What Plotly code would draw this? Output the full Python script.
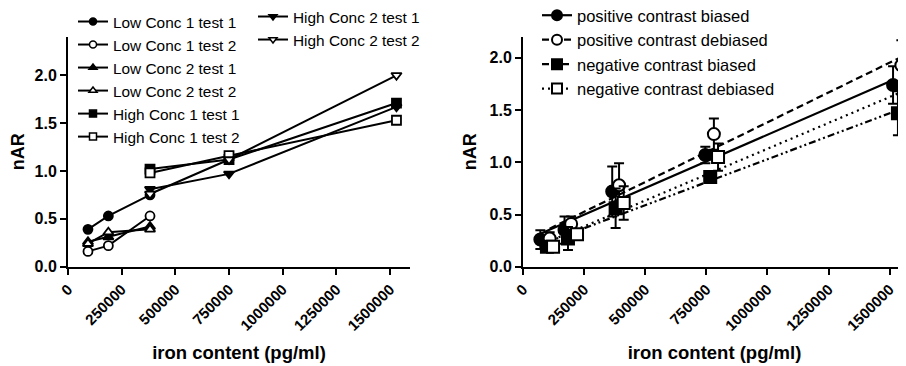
import numpy as np
import plotly.graph_objects as go

# ---------------- data: left panel ----------------
x_low = [93000, 188000, 382000]
x_high = [382000, 750000, 1530000]

low_c1_t1 = [0.39, 0.53, 0.75]
low_c1_t2 = [0.16, 0.22, 0.53]
low_c2_t1 = [0.26, 0.31, 0.42]
low_c2_t2 = [0.24, 0.36, 0.39]
high_c1_t1 = [1.02, 1.12, 1.71]
high_c1_t2 = [0.98, 1.16, 1.53]
high_c2_t1 = [0.81, 0.97, 1.67]
high_c2_t2 = [0.76, 1.12, 2.00]

# ---------------- data: right panel ----------------
x_pos_b = [71000, 170000, 365000, 746000, 1514000]
x_pos_d = [109000, 197000, 393000, 781000, 1548000]
x_neg_b = [98000, 184000, 379000, 766000, 1534000]
x_neg_d = [123000, 221000, 412000, 798000, 1562000]

y_pos_b = [0.26, 0.35, 0.72, 1.07, 1.74]
y_pos_d = [0.27, 0.41, 0.78, 1.27, 1.93]
y_neg_b = [0.19, 0.27, 0.56, 0.86, 1.47]
y_neg_d = [0.19, 0.31, 0.61, 1.05, 1.62]

e_pos_b = [0.09, 0.13, 0.24, 0.08, 0.18]
e_pos_d = [0.06, 0.07, 0.21, 0.15, 0.24]
e_neg_b = [0.04, 0.11, 0.19, 0.03, 0.21]
e_neg_d = [0.03, 0.05, 0.16, 0.13, 0.20]

x_tickvals = [0, 250000, 500000, 750000, 1000000, 1250000, 1500000]
x_ticktext = ["0", "250000", "500000", "750000", "1000000", "1250000", "1500000"]
y_tickvals = [0.0, 0.5, 1.0, 1.5, 2.0]

FONT = "Liberation Sans, Arial, sans-serif"
W, H = 906, 366
OFF = 8  # page body margin offset


def fx(px):
    return (px - OFF) / W


def fy(py):
    return 1 - (py - OFF) / H


fig = go.Figure()

left_series = [
    ("Low Conc 1 test 1", x_low, low_c1_t1, "circle", "black", "legend"),
    ("Low Conc 1 test 2", x_low, low_c1_t2, "circle", "white", "legend"),
    ("Low Conc 2 test 1", x_low, low_c2_t1, "triangle-up", "black", "legend"),
    ("Low Conc 2 test 2", x_low, low_c2_t2, "triangle-up", "white", "legend"),
    ("High Conc 1 test 1", x_high, high_c1_t1, "square", "black", "legend"),
    ("High Conc 1 test 2", x_high, high_c1_t2, "square", "white", "legend"),
    ("High Conc 2 test 1", x_high, high_c2_t1, "triangle-down", "black", "legend2"),
    ("High Conc 2 test 2", x_high, high_c2_t2, "triangle-down", "white", "legend2"),
]
for name, xs, ys, sym, fill, leg in left_series:
    fig.add_trace(go.Scatter(
        x=xs, y=ys, name=name, mode="lines+markers", showlegend=False,
        line=dict(color="black", width=2),
        marker=dict(symbol=sym, size=9, color=fill, line=dict(color="black", width=1.8)),
        xaxis="x", yaxis="y", cliponaxis=False,
    ))
for name, xs, ys, sym, fill, leg in left_series:
    fig.add_trace(go.Scatter(
        x=[None], y=[None], name=name, mode="lines+markers", legend=leg,
        line=dict(color="black", width=2),
        marker=dict(symbol=sym, size=7, color=fill, line=dict(color="black", width=1.5)),
        xaxis="x", yaxis="y",
    ))

right_series = [
    ("positive contrast biased", x_pos_b, y_pos_b, e_pos_b, "circle", "black", "solid"),
    ("positive contrast debiased", x_pos_d, y_pos_d, e_pos_d, "circle", "white", "7px,4px"),
    ("negative contrast biased", x_neg_b, y_neg_b, e_neg_b, "square", "black",
     "7px,3px,2px,3px,2px,3px"),
    ("negative contrast debiased", x_neg_d, y_neg_d, e_neg_d, "square", "white", "2px,4px"),
]
for name, xs, ys, es, sym, fill, dash in right_series:
    xa = np.array(xs, dtype=float)
    ya = np.array(ys, dtype=float)
    k, b = np.polyfit(xa, ya, 1)
    xf = np.array([xa.min(), xa.max()])
    fig.add_trace(go.Scatter(
        x=xf, y=k * xf + b, mode="lines", showlegend=False,
        line=dict(color="black", width=2.2, dash=dash),
        xaxis="x2", yaxis="y2", cliponaxis=False,
    ))
for name, xs, ys, es, sym, fill, dash in right_series:
    fig.add_trace(go.Scatter(
        x=xs, y=ys, mode="markers", showlegend=False,
        error_y=dict(type="data", array=es, visible=True, color="black", thickness=2, width=5),
        marker=dict(symbol=sym, size=12, color=fill, line=dict(color="black", width=2)),
        xaxis="x2", yaxis="y2", cliponaxis=False,
    ))
for name, xs, ys, es, sym, fill, dash in right_series:
    fig.add_trace(go.Scatter(
        x=[None], y=[None], name=name, mode="lines+markers", legend="legend3",
        line=dict(color="black", width=2.2, dash=dash),
        marker=dict(symbol=sym, size=10, color=fill, line=dict(color="black", width=2)),
        xaxis="x2", yaxis="y2",
    ))

ydom = [fy(266.7), fy(37)]
axis_common = dict(
    showline=True, linecolor="black", linewidth=2,
    ticks="outside", ticklen=6, tickwidth=2, tickcolor="black",
    showgrid=False, zeroline=False, automargin=False,
)
xaxis_common = dict(
    axis_common, tickmode="array", tickvals=x_tickvals, ticktext=x_ticktext, tickangle=-45,
    tickfont=dict(family=FONT, size=15, color="black", weight="bold"),
    title=dict(text="iron content (pg/ml)", standoff=13,
               font=dict(family=FONT, size=18.5, color="black", weight="bold")),
)
yaxis_common = dict(
    axis_common, tickmode="array", tickvals=y_tickvals, tickformat=".1f",
    tickfont=dict(family=FONT, size=16, color="black", weight="bold"),
    title=dict(text="nAR", standoff=8,
               font=dict(family=FONT, size=18, color="black", weight="bold")),
)

legend_common = dict(
    bgcolor="rgba(0,0,0,0)", borderwidth=0, xanchor="left", yanchor="top",
    font=dict(family=FONT, size=15.4, color="black"), tracegroupgap=0,
)

fig.update_layout(
    width=W, height=H, template="none",
    paper_bgcolor="white", plot_bgcolor="white",
    margin=dict(l=0, r=0, t=0, b=0, autoexpand=False),
    font=dict(family=FONT, color="black"),
    xaxis=dict(xaxis_common, domain=[fx(68), fx(410)], range=[0, 1593000], anchor="y"),
    yaxis=dict(yaxis_common, domain=ydom, range=[0, 2.4], anchor="x"),
    xaxis2=dict(xaxis_common, domain=[fx(523), fx(906)], range=[0, 1567000], anchor="y2"),
    yaxis2=dict(yaxis_common, domain=ydom, range=[0, 2.2], anchor="x2"),
    legend=dict(legend_common, x=fx(73), y=fy(5)),
    legend2=dict(legend_common, x=fx(253), y=fy(0)),
    legend3=dict(legend_common, x=fx(537), y=fy(-2),
                 font=dict(family=FONT, size=16.5, color="black")),
)

fig.write_html("out.html")
